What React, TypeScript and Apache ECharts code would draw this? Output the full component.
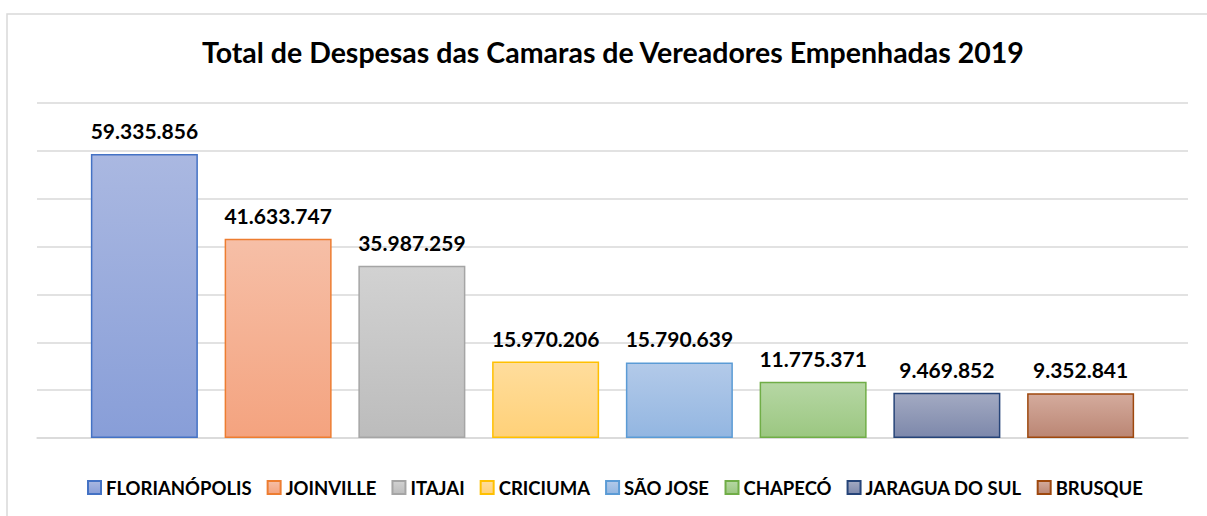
import React, { useEffect, useRef } from "react";
import * as echarts from "echarts";

const cities = ["FLORIANÓPOLIS", "JOINVILLE", "ITAJAI", "CRICIUMA", "SÃO JOSE", "CHAPECÓ", "JARAGUA DO SUL", "BRUSQUE"];
const values = [59335856, 41633747, 35987259, 15970206, 15790639, 11775371, 9469852, 9352841];
const borderColors = ["#4472c4", "#ed7d31", "#a5a5a5", "#ffc000", "#5b9bd5", "#70ad47", "#264478", "#9e480e"];
const topColors = ["#aab8e1", "#f6bfa7", "#d2d2d2", "#ffdd9c", "#b3cae9", "#b6d7a4", "#a3aac2", "#d4ab9d"];
const bottomColors = ["#889ed8", "#f4a37f", "#bcbcbc", "#ffd179", "#93b6e1", "#9bc781", "#7d88ab", "#bb8674"];
const title = "Total de Despesas das Camaras de Vereadores Empenhadas 2019";

const fmt = (v: number) => v.toString().replace(/\B(?=(\d{3})+(?!\d))/g, ".");

export default function App() {
  const ref = useRef<HTMLDivElement>(null);
  useEffect(() => {
    if (!ref.current) return;
    const chart = echarts.init(ref.current, null, { renderer: "svg" });
    const font = "Lato, 'Open Sans', sans-serif";
    chart.setOption({
      animation: false,
      backgroundColor: "#ffffff",
      title: {
        text: title,
        left: 197,
        top: 32,
        textStyle: { fontFamily: font, fontSize: 28.5, fontWeight: "bold", color: "#000" },
      },
      graphic: [
        {
          type: "rect",
          shape: { x: 7, y: 14, width: 1220, height: 530 },
          style: { fill: "none", stroke: "#d9d9d9", lineWidth: 1.5 },
          silent: true,
          z: -1,
        },
      ],
      legend: {
        bottom: 14,
        left: 82,
        itemWidth: 13,
        itemHeight: 13,
        itemGap: 15,
        icon: "rect",
        textStyle: { fontFamily: font, fontSize: 18.5, fontWeight: "bold", color: "#000" },
        data: cities,
      },
      grid: { left: 37, right: 19, top: 103, bottom: 78 },
      xAxis: {
        type: "category",
        data: ["2019"],
        axisLine: { lineStyle: { color: "#d9d9d9", width: 1.5 } },
        axisTick: { show: false },
        axisLabel: { show: false },
      },
      yAxis: {
        type: "value",
        min: 0,
        max: 70000000,
        interval: 10000000,
        axisLabel: { show: false },
        axisLine: { show: false },
        axisTick: { show: false },
        splitLine: { lineStyle: { color: "#d9d9d9", width: 1.5 } },
      },
      series: cities.map((c, i) => ({
        name: c,
        type: "bar",
        data: [values[i]],
        barWidth: 107,
        barGap: "25%",
        itemStyle: {
          color: new echarts.graphic.LinearGradient(0, 0, 0, 1, [
            { offset: 0, color: topColors[i] },
            { offset: 1, color: bottomColors[i] },
          ]),
          borderColor: borderColors[i],
          borderWidth: 1.5,
        },
        label: {
          show: true,
          position: "top",
          distance: 13,
          formatter: (p: any) => fmt(p.value),
          fontFamily: font,
          fontSize: 21,
          fontWeight: "bold",
          color: "#000",
        },
      })),
    });
    return () => chart.dispose();
  }, []);
  return <div ref={ref} style={{ position: "fixed", left: 0, top: 0, width: 1207, height: 516 }} />;
}
